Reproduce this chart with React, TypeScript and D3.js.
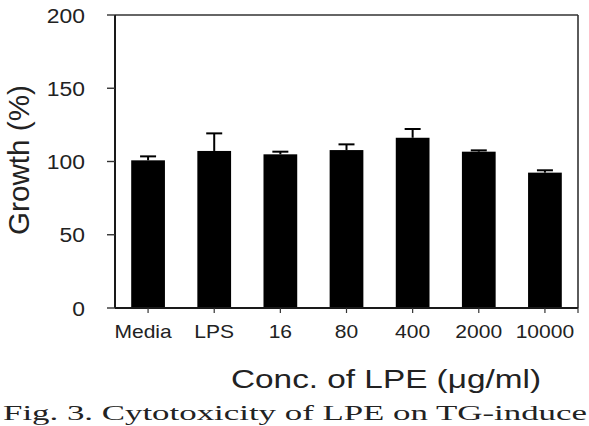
import React from "react";
import * as d3 from "d3";

const categories = ["Media", "LPS", "16", "80", "400", "2000", "10000"];
const growth = [100.8, 107.2, 104.9, 107.8, 116.2, 106.7, 92.4];
const errors = [2.7, 12.0, 1.8, 3.9, 6.0, 0.9, 1.6];
const yTicks = [0, 50, 100, 150, 200];
const xTitle = "Conc. of LPE (\u03BCg/ml)";
const yTitle = "Growth (%)";
const caption = "Fig. 3. Cytotoxicity of LPE on TG-induce";

const W = 589;
const H = 426;
const left = 115;
const right = 578;
const top = 15;
const bottom = 308;
const ink = "#1a1a1a";
const sans = "Arial, 'Liberation Sans', Helvetica, sans-serif";

export default function App() {
  const x = d3
    .scaleBand<string>()
    .domain(categories)
    .range([left, right])
    .paddingInner(0.49)
    .paddingOuter(0.245);
  const y = d3.scaleLinear().domain([0, 200]).range([bottom, top]);
  const bw = x.bandwidth();
  const capW = 16;

  return (
    <svg
      width={W}
      height={H}
      viewBox={`0 0 ${W} ${H}`}
      style={{ position: "absolute", left: 0, top: 0, background: "#fff" }}
    >
      <rect x={0} y={0} width={W} height={H} fill="#fff" />

      {/* bars */}
      {categories.map((c, i) => (
        <rect
          key={c}
          x={x(c)!}
          y={y(growth[i])}
          width={bw}
          height={y(0) - y(growth[i])}
          fill="#000"
        />
      ))}

      {/* upper error bars */}
      {categories.map((c, i) => {
        const cx = x(c)! + bw / 2;
        const yt = y(growth[i] + errors[i]);
        return (
          <g key={"e" + c} stroke="#000" strokeWidth={2}>
            <line x1={cx} x2={cx} y1={y(growth[i])} y2={yt} />
            <line x1={cx - capW / 2} x2={cx + capW / 2} y1={yt} y2={yt} />
          </g>
        );
      })}

      {/* frame */}
      <g fill="none">
        <line x1={left} x2={right} y1={top} y2={top} stroke="#333" strokeWidth={1.6} />
        <line x1={right} x2={right} y1={top} y2={bottom} stroke="#333" strokeWidth={1.6} />
        <line x1={left} x2={left} y1={top} y2={bottom} stroke={ink} strokeWidth={2} />
        <line x1={left} x2={right} y1={bottom} y2={bottom} stroke={ink} strokeWidth={2} />
      </g>

      {/* y ticks and labels */}
      {yTicks.map((t) => (
        <g key={"y" + t}>
          <line x1={left - 8} x2={left} y1={y(t)} y2={y(t)} stroke="#333" strokeWidth={1.4} />
          <text
            transform={`translate(85,${y(t) + 7.5}) scale(1.09,1)`}
            textAnchor="end"
            fontFamily={sans}
            fontSize={21}
            fill="#222"
          >
            {t}
          </text>
        </g>
      ))}

      {/* x ticks and labels */}
      {categories.map((c) => {
        const cx = x(c)! + bw / 2;
        return (
          <g key={"x" + c}>
            <line x1={cx} x2={cx} y1={bottom} y2={bottom + 5} stroke="#333" strokeWidth={1.2} />
            <text
              transform={`translate(${cx - (c === "Media" ? 5 : 0)},338) scale(1.17,1)`}
              textAnchor="middle"
              fontFamily={sans}
              fontSize={18}
              fill="#222"
            >
              {c}
            </text>
          </g>
        );
      })}
      <line x1={right} x2={right} y1={bottom} y2={bottom + 5} stroke="#333" strokeWidth={1.2} />

      {/* axis titles */}
      <text
        x={386}
        y={388}
        textAnchor="middle"
        fontFamily={sans}
        fontSize={25}
        fill="#222"
        textLength={310}
        lengthAdjust="spacingAndGlyphs"
      >
        {xTitle}
      </text>
      <text
        transform="translate(29,160) rotate(-90)"
        textAnchor="middle"
        fontFamily={sans}
        fontSize={29}
        fill="#222"
        textLength={150}
        lengthAdjust="spacingAndGlyphs"
      >
        {yTitle}
      </text>

      {/* caption */}
      <text
        x={3}
        y={420}
        fontFamily="'Liberation Serif', 'DejaVu Serif', serif"
        fontSize={21}
        fill="#222"
        textLength={584}
        lengthAdjust="spacingAndGlyphs"
      >
        {caption}
      </text>
    </svg>
  );
}
